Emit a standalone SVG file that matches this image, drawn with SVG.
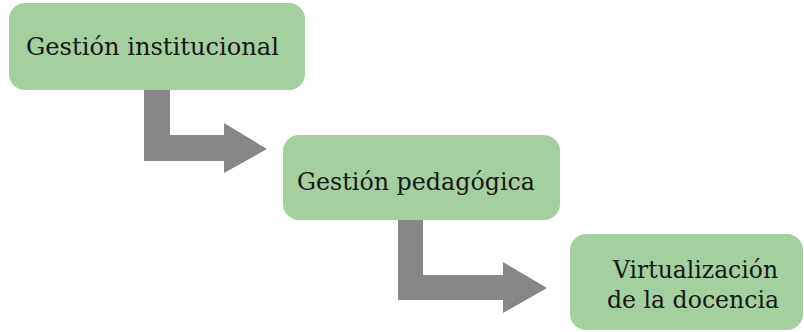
<svg xmlns="http://www.w3.org/2000/svg" width="804" height="332" viewBox="0 0 804 332">
<style>
.box{fill:#a4d0a0;}
.arrow{fill:#878787;}
text{font-family:'DejaVu Serif',serif;font-size:24px;fill:#161616;}
</style>
<rect width="804" height="332" fill="#fff"/>
<g id="connectors">
<path class="arrow" d="M144,86 H170 V135 H224 V123 L267,149 L224,173 V161 H144 Z"/>
<path class="arrow" d="M398,216 H423 V275 H503 V262 L547,288 L503,313 V300 H398 Z"/>
</g>
<g id="node1">
<rect class="box" x="9" y="3" width="296" height="87" rx="16"/>
<text x="26" y="55" textLength="253" lengthAdjust="spacingAndGlyphs">Gestión institucional</text>
</g>
<g id="node2">
<rect class="box" x="283" y="135" width="277" height="85" rx="16"/>
<text x="297" y="190" textLength="238" lengthAdjust="spacingAndGlyphs">Gestión pedagógica</text>
</g>
<g id="node3">
<rect class="box" x="570" y="234" width="233" height="96" rx="16"/>
<text x="613" y="278" textLength="165" lengthAdjust="spacingAndGlyphs">Virtualización</text>
<text x="607" y="308" textLength="172" lengthAdjust="spacingAndGlyphs">de la docencia</text>
</g>
</svg>
